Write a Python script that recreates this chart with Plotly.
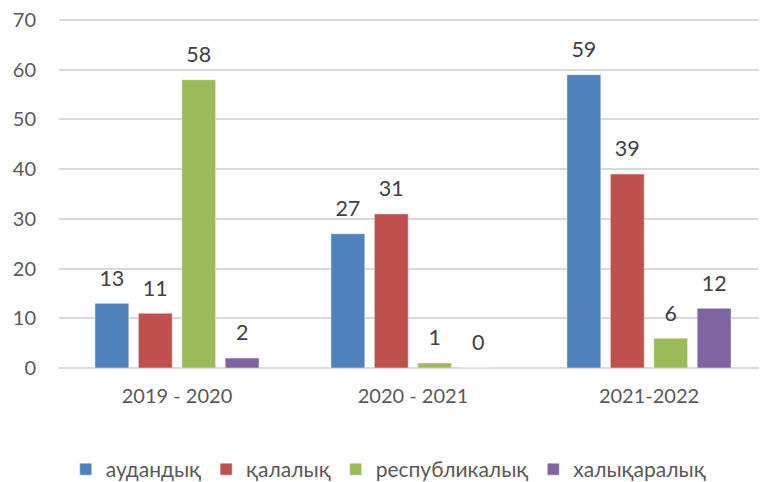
import plotly.graph_objects as go

categories = ["2019 - 2020", "2020 - 2021", "2021-2022"]
series_names = ["аудандық", "қалалық", "республикалық", "халықаралық"]
audandyk = [13, 27, 59]
kalalyk = [11, 31, 39]
respublikalyk = [58, 1, 6]
khalykaralyk = [2, 0, 12]
y_ticks = [0, 10, 20, 30, 40, 50, 60, 70]

values = [audandyk, kalalyk, respublikalyk, khalykaralyk]
colors = ["#4F81BD", "#C0504D", "#9BBB59", "#8064A2"]
FONT = "Lato, 'Open Sans', sans-serif"

fig = go.Figure()
for i, (name, vals, col) in enumerate(zip(series_names, values, colors)):
    fig.add_trace(go.Bar(
        x=categories, y=vals, name=name, offsetgroup=str(i),
        marker=dict(color=col, line=dict(color="rgba(255,255,255,0.45)", width=1)),
    ))
for i, (name, vals) in enumerate(zip(series_names, values)):
    fig.add_trace(go.Scatter(
        x=categories, y=vals, mode="markers+text", offsetgroup=str(i),
        text=[str(v) for v in vals], textposition="top center",
        marker=dict(size=18, color="rgba(0,0,0,0)"),
        textfont=dict(family=FONT, size=21.5, color="#404040"),
        showlegend=False, hoverinfo="skip", cliponaxis=False,
    ))

fig.update_layout(
    width=759, height=482,
    margin=dict(l=51, r=0, t=9, b=121),
    paper_bgcolor="white", plot_bgcolor="white",
    barmode="group", bargap=0.264, bargroupgap=0.22,
    scattermode="group", scattergap=0.264,
    font=dict(family=FONT, size=20, color="#595959"),
    legend=dict(orientation="h", x=0.465, xanchor="center", y=-0.288, yanchor="middle",
                font=dict(family=FONT, size=21, color="#595959"),
                itemwidth=30, tracegroupgap=0),
    showlegend=True,
)
fig.update_xaxes(showgrid=False, showline=False, zeroline=False, ticks="",
                 tickfont=dict(family=FONT, size=20, color="#595959"),
                 ticklabelstandoff=14)
fig.update_yaxes(range=[0, 70.6], tickvals=y_ticks, showgrid=True, gridcolor="#D9D9D9",
                 gridwidth=1.5, zeroline=True, zerolinecolor="#D9D9D9", zerolinewidth=1.5,
                 showline=False, ticks="", ticklabeloverflow="allow",
                 tickfont=dict(family=FONT, size=20, color="#595959"),
                 ticklabelstandoff=22)

fig.write_html("out.html")
